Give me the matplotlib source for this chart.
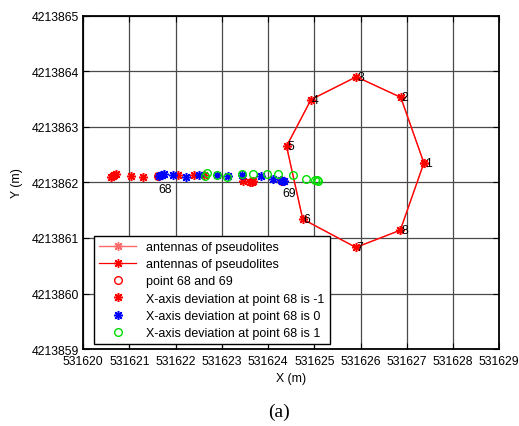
import matplotlib
matplotlib.use("Agg")
import matplotlib.pyplot as plt
from matplotlib.ticker import FixedLocator, FuncFormatter

plt.rcParams["font.family"] = ["Liberation Sans", "DejaVu Sans"]
plt.rcParams["font.size"] = 8.8

# ==================================
# Data
# ==================================
# pseudolite antennas (octagon, numbered 1..8)
ant_x = [531627.37, 531626.87, 531625.91, 531624.93,
         531624.40, 531624.75, 531625.90, 531626.86]
ant_y = [4213862.35, 4213863.53, 4213863.90, 4213863.49,
         4213862.65, 4213861.34, 4213860.83, 4213861.14]
ant_labels = ["1", "2", "3", "4", "5", "6", "7", "8"]

# points 68 and 69
pt_x = [531621.63, 531624.31]
pt_y = [4213862.11, 4213862.03]
pt_labels = ["68", "69"]

# positioning results, X-axis deviation at point 68 = -1
dev_m1_x = [531620.60, 531620.64, 531620.68, 531620.72, 531621.03, 531621.30,
            531621.63, 531622.05, 531622.40, 531622.62, 531623.46, 531623.62,
            531623.66, 531623.68, 531624.29, 531624.32]
dev_m1_y = [4213862.10, 4213862.12, 4213862.13, 4213862.15, 4213862.12, 4213862.09,
            4213862.12, 4213862.13, 4213862.13, 4213862.13, 4213862.03, 4213862.01,
            4213862.00, 4213862.02, 4213862.04, 4213862.02]

# X-axis deviation = 0
dev_0_x = [531621.65, 531621.68, 531621.71, 531621.74, 531621.94, 531622.22,
           531622.51, 531622.89, 531623.14, 531623.44, 531623.84, 531624.10,
           531624.28, 531624.31, 531624.34]
dev_0_y = [4213862.11, 4213862.13, 4213862.14, 4213862.15, 4213862.13, 4213862.09,
           4213862.13, 4213862.13, 4213862.11, 4213862.14, 4213862.12, 4213862.07,
           4213862.04, 4213862.03, 4213862.02]

# X-axis deviation = 1
dev_p1_x = [531622.63, 531622.68, 531622.89, 531623.12, 531623.43, 531623.68,
            531623.97, 531624.22, 531624.54, 531624.83, 531625.02, 531625.05,
            531625.07]
dev_p1_y = [4213862.11, 4213862.17, 4213862.13, 4213862.09, 4213862.15, 4213862.15,
            4213862.15, 4213862.15, 4213862.13, 4213862.07, 4213862.05, 4213862.04,
            4213862.03]

x_ticks = list(range(531620, 531630))
y_ticks = list(range(4213859, 4213866))

# ==================================
# Plot
# ==================================
fig = plt.figure(figsize=(5.19, 4.27), dpi=100)
ax = fig.add_axes([0.160, 0.180, 0.802, 0.781])

asterisk = (8, 2, 0)
closed_x = ant_x + ant_x[:1]
closed_y = ant_y + ant_y[:1]

ax.plot(closed_x, closed_y, color="#ff6a6a", lw=1.0, marker=asterisk,
        ms=6.5, mew=1.0, label="antennas of pseudolites")
ax.plot(closed_x, closed_y, color="red", lw=0.9, marker=asterisk,
        ms=6.5, mew=1.0, label="antennas of pseudolites")
for x, y, t in zip(ant_x, ant_y, ant_labels):
    ax.text(x + 0.02, y, t, ha="left", va="center", fontsize=8.8)

ax.plot(pt_x, pt_y, ls="none", marker="o", ms=5.5, mfc="none",
        mec="red", mew=1.0, label="point 68 and 69")
ax.plot(dev_m1_x, dev_m1_y, ls="none", marker=asterisk, ms=6.5, mew=1.1,
        color="red", label="X-axis deviation at point 68 is -1")
ax.plot(dev_0_x, dev_0_y, ls="none", marker=asterisk, ms=6.5, mew=1.1,
        color="blue", label="X-axis deviation at point 68 is 0")
ax.plot(dev_p1_x, dev_p1_y, ls="none", marker="o", ms=5.5, mfc="none",
        mec="#00dd00", mew=1.0, label="X-axis deviation at point 68 is 1")

for x, y, t in zip(pt_x, pt_y, pt_labels):
    ax.annotate(t, (x, y), xytext=(5, -9), textcoords="offset points",
                ha="center", va="center", fontsize=8.8)

ax.set_xlim(531620, 531629)
ax.set_ylim(4213859, 4213865)
ax.xaxis.set_major_locator(FixedLocator(x_ticks))
ax.yaxis.set_major_locator(FixedLocator(y_ticks))
ax.xaxis.set_major_formatter(FuncFormatter(lambda v, p: f"{v:.0f}"))
ax.yaxis.set_major_formatter(FuncFormatter(lambda v, p: f"{v:.0f}"))
ax.tick_params(direction="in", length=4, width=0.8, top=True, right=True,
               labelsize=8.8)
ax.tick_params(axis="x", pad=4)
ax.tick_params(axis="y", pad=3)
ax.grid(True, color="#4a4a4a", lw=0.9)
ax.set_axisbelow(True)
for sp in ax.spines.values():
    sp.set_linewidth(1.3)

ax.set_xlabel("X (m)", fontsize=8.8, labelpad=4)
ax.set_ylabel("Y (m)", fontsize=8.8, labelpad=6)

leg = ax.legend(loc="lower left", bbox_to_anchor=(0.026, 0.015),
                borderaxespad=0, fancybox=False, framealpha=1,
                edgecolor="black", handlelength=3.0, labelspacing=0.42,
                fontsize=9, borderpad=0.4)
leg.get_frame().set_linewidth(1.0)

fig.text(0.538, 0.035, "(a)", fontsize=14, ha="center", va="center",
         family=["Liberation Serif", "DejaVu Serif"])

fig.savefig("out.png", dpi=100)
